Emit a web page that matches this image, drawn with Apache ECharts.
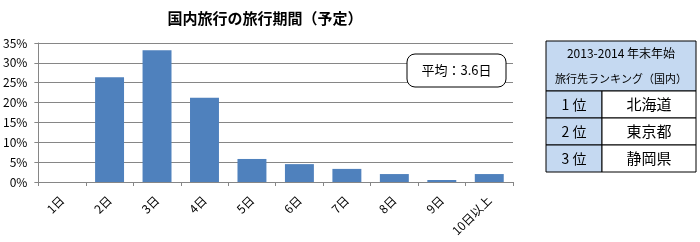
<!DOCTYPE html>
<html><head><meta charset="utf-8">
<script src="https://cdn.jsdelivr.net/npm/echarts@6/dist/echarts.min.js"></script>
<style>html,body{margin:0;padding:0;background:#fff}#c{width:700px;height:242px}</style>
</head><body><div id="c"></div>
<script>
const categories = ['1日','2日','3日','4日','5日','6日','7日','8日','9日','10日以上'];
const values = [0, 26.4, 33.2, 21.2, 5.8, 4.5, 3.3, 2.0, 0.5, 2.0];
const yTicks = [0, 5, 10, 15, 20, 25, 30, 35];
const titleText = '国内旅行の旅行期間（予定）';
const avgText = '平均：3.6日';
const tableHeader = ['2013-2014 年末年始', '旅行先ランキング（国内）'];
const rankLabels = ['1 位', '2 位', '3 位'];
const rankPlaces = ['北海道', '東京都', '静岡県'];

const FONT = '"Noto Sans CJK JP", "Noto Sans", sans-serif';
const chart = echarts.init(document.getElementById('c'));

function txt(x, y, text, size) {
  return {type:'text', x:x, y:y, z:11,
    style:{text:text, fontSize:size, fontFamily:FONT, fill:'#000', align:'center', verticalAlign:'middle'}};
}

const graphics = [];
// average box
graphics.push({type:'rect', shape:{x:407, y:54, width:99, height:33, r:8},
  style:{fill:'#fff', stroke:'#000', lineWidth:1}, z:10});
graphics.push(txt(456.5, 70.5, avgText, 13));
// table
const tx = 546, tw = 150, colSplit = 602;
const headerTop = 41, headerRowH = 25;
graphics.push({type:'rect', shape:{x:tx, y:headerTop, width:tw, height:headerRowH*2},
  style:{fill:'#C5D9F1', stroke:'#000', lineWidth:1}, z:5});
tableHeader.forEach((t,i)=>{
  graphics.push(txt(tx+tw/2, headerTop+headerRowH*i+headerRowH/2, t, i === 0 ? 12 : 11));
});
const rowTop = 91, rowH = 27;
rankLabels.forEach((r,i)=>{
  const y = rowTop + rowH*i;
  graphics.push({type:'rect', shape:{x:tx, y:y, width:colSplit-tx, height:rowH},
    style:{fill:'#C5D9F1', stroke:'#000', lineWidth:1}, z:5});
  graphics.push({type:'rect', shape:{x:colSplit, y:y, width:tx+tw-colSplit, height:rowH},
    style:{fill:'#fff', stroke:'#000', lineWidth:1}, z:5});
  graphics.push(txt((tx+colSplit)/2, y+rowH/2, r, 14));
  graphics.push(txt((colSplit+tx+tw)/2, y+rowH/2, rankPlaces[i], 15));
});

chart.setOption({
  animation:false,
  textStyle:{fontFamily:FONT},
  title:{text:titleText, left:260, top:6, textAlign:'center',
    textStyle:{fontSize:15, fontWeight:'bold', color:'#000', fontFamily:FONT}},
  grid:{left:38, right:187, top:43, bottom:60, containLabel:false},
  xAxis:{type:'category', data:categories,
    axisLine:{lineStyle:{color:'#868686'}},
    axisTick:{show:true, alignWithLabel:false, length:4, lineStyle:{color:'#868686'}},
    axisLabel:{rotate:45, fontSize:12, color:'#000', margin:16, interval:0, fontFamily:FONT}},
  yAxis:{type:'value', min:0, max:yTicks[yTicks.length-1], interval:5,
    axisLine:{show:true, lineStyle:{color:'#868686'}},
    axisTick:{show:true, length:4, lineStyle:{color:'#868686'}},
    splitLine:{lineStyle:{color:'#868686'}},
    axisLabel:{formatter:'{value}%', fontSize:12, color:'#000', margin:11, fontFamily:FONT}},
  series:[{type:'bar', data:values, barWidth:'61%', itemStyle:{color:'#4F81BD'}}],
  graphic:graphics
});
</script></body></html>
